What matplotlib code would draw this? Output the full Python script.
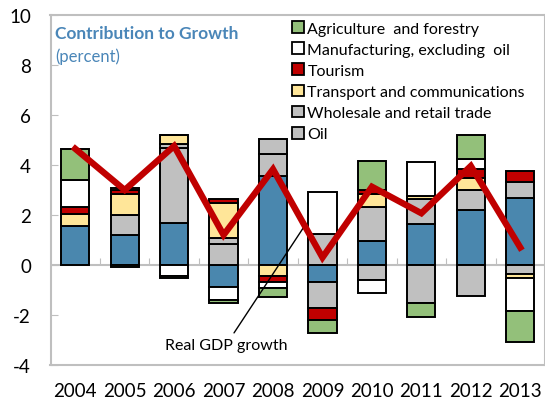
import numpy as np
import matplotlib
matplotlib.use("Agg")
import matplotlib.pyplot as plt
from matplotlib.patches import Patch

plt.rcParams['font.family'] = ['Lato', 'DejaVu Sans']

years = ['2004', '2005', '2006', '2007', '2008', '2009', '2010', '2011', '2012', '2013']
other = [1.56, 1.20, 1.70, -0.88, 3.57, -0.67, 0.96, 1.63, 2.19, 2.70]
oil = [0.00, 0.80, 3.00, 0.83, 0.88, 1.25, 1.37, 1.00, 0.81, 0.63]
wholesale = [0.00, 0.00, 0.13, 0.27, 0.60, -1.04, -0.61, -1.53, -1.24, -0.35]
transport = [0.49, 0.85, 0.37, 1.40, -0.44, 0.00, 0.50, 0.12, 0.49, -0.15]
tourism = [0.28, 0.14, 0.00, 0.15, -0.23, -0.49, 0.17, 0.00, 0.37, 0.43]
manufacturing = [1.06, 0.08, -0.44, -0.50, -0.24, 1.68, -0.49, 1.37, 0.37, -1.34]
agriculture = [1.24, -0.08, -0.08, -0.14, -0.36, -0.51, 1.16, -0.53, 0.96, -1.23]
gdp = [4.65, 3.00, 4.76, 1.20, 3.83, 0.30, 3.13, 2.07, 3.96, 0.70]

labels = ['_nolegend_', 'Oil', 'Wholesale and retail trade', 'Transport and communications',
          'Tourism', 'Manufacturing, excluding  oil', 'Agriculture  and forestry']
colors = ['#4a87ae', '#c0c0c0', '#c0c0c0', '#ffe699', '#c00000', '#ffffff', '#93c07a']
series = [other, oil, wholesale, transport, tourism, manufacturing, agriculture]

fig = plt.figure(figsize=(5.45, 4.06), dpi=100)
ax = fig.add_axes([50.5 / 545, 40 / 406, 1 - 50.5 / 545, (406 - 16 - 40) / 406])

x = np.arange(len(years))
pos = np.zeros(len(years))
neg = np.zeros(len(years))
for vals, col, lab in zip(series, colors, labels):
    v = np.array(vals, dtype=float)
    bottom = np.where(v >= 0, pos, neg)
    ax.bar(x, v, 0.57, bottom=bottom, color=col, edgecolor='black', linewidth=1.4,
           zorder=3, label=lab)
    pos = pos + np.where(v > 0, v, 0)
    neg = neg + np.where(v < 0, v, 0)

ax.plot(x, gdp, color='#c00000', lw=4.6, zorder=5, solid_joinstyle='miter')

ax.set_xlim(-0.5, len(years) - 0.5)
ax.set_ylim(-4, 10)
ax.set_yticks([-4, -2, 0, 2, 4, 6, 8, 10])
ax.set_yticklabels(['-4', '-2', '0', '2', '4', '6', '8', '10'])
ax.set_xticks(x)
ax.set_xticklabels(years)

grey = '#bfbfbf'
for s in ax.spines.values():
    s.set_color(grey)
    s.set_linewidth(1.5)
ax.tick_params(axis='y', direction='in', length=5, color=grey, labelsize=13.5, pad=14)
ax.tick_params(axis='x', length=0, labelsize=13.5, pad=12)

ax.axhline(0, color=grey, lw=1.5, zorder=1)
sec = ax.secondary_xaxis(4 / 14)
sec.set_xticks(np.arange(0.5, len(years) - 1, 1.0))
sec.tick_params(axis='x', direction='in', length=5, color=grey, labelbottom=False)
sec.spines['bottom'].set_visible(False)

ax.text(0.010, 0.972, 'Contribution to Growth', transform=ax.transAxes, color='#4a86b8',
        fontsize=12.5, fontweight='bold', va='top', ha='left')
ax.text(0.010, 0.908, '(percent)', transform=ax.transAxes, color='#4a86b8',
        fontsize=12, va='top', ha='left')

order = ['Agriculture  and forestry', 'Manufacturing, excluding  oil', 'Tourism',
         'Transport and communications', 'Wholesale and retail trade', 'Oil']
cmap = dict(zip(labels, colors))
leg_handles = [Patch(facecolor=cmap[l], edgecolor='black', linewidth=1.3) for l in order]
ax.legend(leg_handles, order, loc='upper left', bbox_to_anchor=(0.468, 1.012),
          frameon=False, fontsize=11.5, handlelength=0.75, handleheight=0.75,
          handletextpad=0.2, labelspacing=0.42, borderaxespad=0.25)

ax.annotate('Real GDP growth', xy=(4.65, 1.6), xytext=(3.05, -3.2),
            ha='center', va='center', fontsize=11.5,
            arrowprops=dict(arrowstyle='-', color='black', lw=1.0, shrinkA=2, shrinkB=0))

fig.savefig('out.png', dpi=100, facecolor='white')
